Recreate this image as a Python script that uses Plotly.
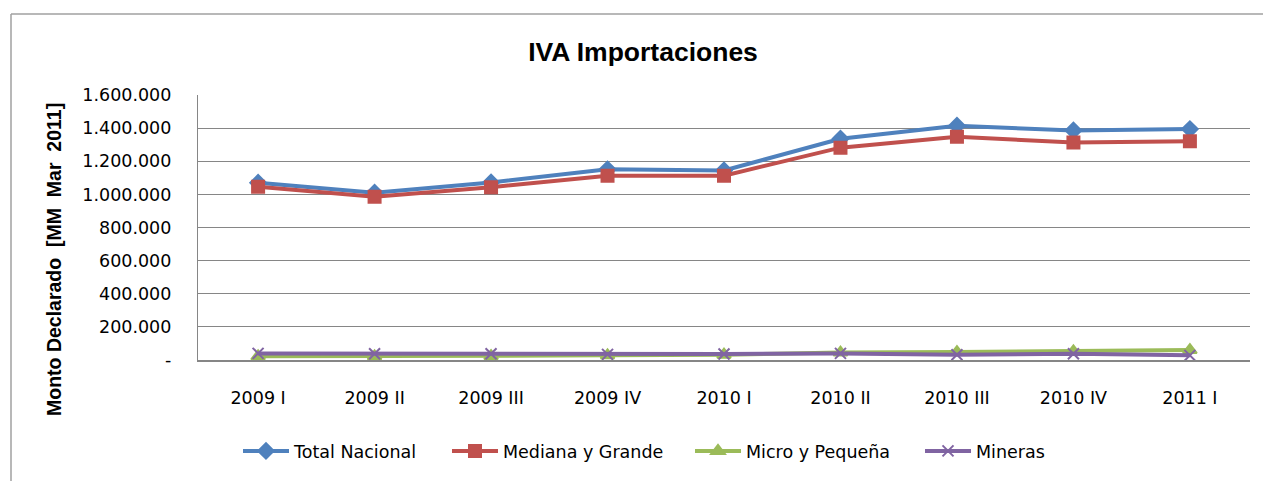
import plotly.graph_objects as go

categories = ["2009 I", "2009 II", "2009 III", "2009 IV", "2010 I", "2010 II", "2010 III", "2010 IV", "2011 I"]
total_nacional = [1070000, 1010000, 1072000, 1151000, 1144000, 1336000, 1414000, 1386000, 1394000]
mediana_grande = [1046000, 986000, 1043000, 1113000, 1113000, 1282000, 1348000, 1313000, 1321000]
micro_pequena = [22000, 22000, 24000, 28000, 32000, 45000, 48000, 52000, 60000]
mineras = [40000, 38000, 38000, 34000, 36000, 40000, 32000, 38000, 28000]

y_tickvals = [0, 200000, 400000, 600000, 800000, 1000000, 1200000, 1400000, 1600000]
y_ticktext = ["-", "200.000", "400.000", "600.000", "800.000", "1.000.000", "1.200.000", "1.400.000", "1.600.000"]

W, H = 1263, 481
L, T = 198, 95
R = W - 1250
B = H - 360
pw, ph = W - L - R, H - T - B


def px_x(x):
    return (x - L) / pw


def px_y(y):
    return (H - B - y) / ph


TICKFONT = "DejaVu Sans, Verdana, sans-serif"
BOLDFONT = "Liberation Sans, Arial, sans-serif"

series = [
    ("Total Nacional", total_nacional, "#4F81BD", "diamond", 12, "legend", 243),
    ("Mediana y Grande", mediana_grande, "#C0504D", "square", 12, "legend2", 452),
    ("Micro y Pequeña", micro_pequena, "#9BBB59", "triangle-up", 12, "legend3", 695),
    ("Mineras", mineras, "#8064A2", "x-thin-open", 11, "legend4", 925),
]

fig = go.Figure()
legends = {}
for name, vals, color, sym, size, lg, lx in series:
    fig.add_trace(go.Scatter(
        x=categories, y=vals, name=name, mode="lines+markers",
        line=dict(color=color, width=4),
        marker=dict(symbol=sym, size=size, color=color,
                    line=dict(color=color, width=2)),
        legend=lg,
    ))
    legends[lg] = dict(orientation="h", x=px_x(lx - 5), xanchor="left",
                       y=px_y(451), yanchor="middle",
                       font=dict(family=TICKFONT, size=17.5, color="black"),
                       itemwidth=46, bgcolor="rgba(0,0,0,0)", borderwidth=0)

fig.update_layout(
    width=W, height=H,
    margin=dict(l=L, r=R, t=T, b=B),
    paper_bgcolor="white", plot_bgcolor="white",
    font=dict(family=TICKFONT, size=17, color="black"),
    title=dict(text="<b>IVA Importaciones</b>", x=px_x(643), xanchor="center",
               xref="paper", y=1 - 52 / H, yanchor="middle",
               font=dict(family=BOLDFONT, size=26.5, color="black")),
    xaxis=dict(type="category", showgrid=False, showline=True, linecolor="#868686",
               linewidth=1.5, ticks="", tickfont=dict(family=TICKFONT, size=17.5),
               ticklabelstandoff=21),
    yaxis=dict(range=[0, 1600000], tickvals=y_tickvals, ticktext=y_ticktext,
               showgrid=True, gridcolor="#868686", gridwidth=1.2,
               showline=True, linecolor="#868686", linewidth=1.2,
               ticks="", tickfont=dict(family=TICKFONT, size=17.5), zeroline=False,
               ticklabelstandoff=22),
    showlegend=True,
    hovermode=False,
    annotations=[
        dict(text="<b>Monto Declarado  [MM  Mar  2011]</b>", textangle=-90,
             xref="paper", yref="paper", x=px_x(54), y=px_y(260),
             xanchor="center", yanchor="middle", showarrow=False,
             font=dict(family=BOLDFONT, size=19.5, color="black")),
    ],
    shapes=[
        dict(type="line", xref="paper", yref="paper", x0=px_x(11), x1=px_x(1275),
             y0=px_y(14), y1=px_y(14), line=dict(color="#A0A0A0", width=1.5)),
        dict(type="line", xref="paper", yref="paper", x0=px_x(11), x1=px_x(11),
             y0=px_y(14), y1=px_y(495), line=dict(color="#A0A0A0", width=1.5)),
    ],
    **legends,
)

fig.write_html(
    "out.html",
    config={"displayModeBar": False},
    post_script="document.body.style.margin='0';document.body.style.overflow='hidden';",
)
